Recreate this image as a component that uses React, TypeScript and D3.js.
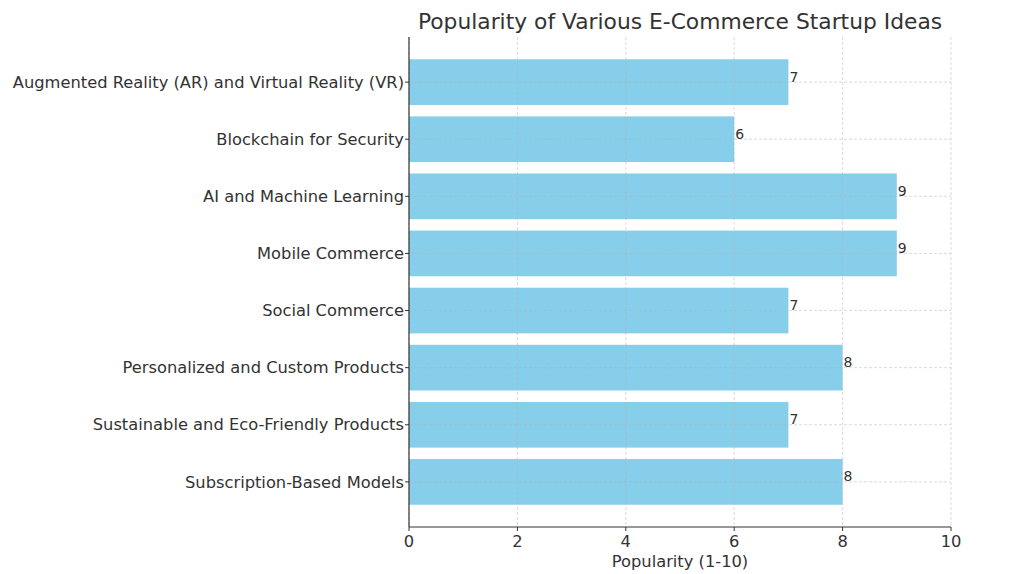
import React from "react";
import * as d3 from "d3";

const categories = [
  "Augmented Reality (AR) and Virtual Reality (VR)",
  "Blockchain for Security",
  "AI and Machine Learning",
  "Mobile Commerce",
  "Social Commerce",
  "Personalized and Custom Products",
  "Sustainable and Eco-Friendly Products",
  "Subscription-Based Models",
];
const popularity = [7, 6, 9, 9, 7, 8, 7, 8];
const xTicks = [0, 2, 4, 6, 8, 10];

const W = 1024;
const H = 574;
const left = 409;
const right = 951;
const top = 37;
const bottom = 527;
const font = "'DejaVu Sans', sans-serif";
const textColor = "#333333";

export default function App() {
  const x = d3.scaleLinear().domain([0, 10]).range([left, right]);
  const n = categories.length;
  const lo = -0.4;
  const hi = n - 1 + 0.4;
  const pad = (hi - lo) * 0.05;
  const y = d3.scaleLinear().domain([lo - pad, hi + pad]).range([top, bottom]);
  const bh = y(0.4) - y(-0.4);

  return (
    <svg
      width={W}
      height={H}
      style={{ position: "absolute", left: 0, top: 0, background: "#fff" }}
      fontFamily={font}
    >
      <text x={(left + right) / 2} y={29} textAnchor="middle" fontSize={21.8} fill={textColor}>
        Popularity of Various E-Commerce Startup Ideas
      </text>
      {categories.map((c, i) => (
        <rect
          key={c}
          x={x(0)}
          y={y(i) - bh / 2}
          width={x(popularity[i]) - x(0)}
          height={bh}
          fill="#87CEEB"
        />
      ))}
      {xTicks.map((t) => (
        <line
          key={"gx" + t}
          x1={x(t)}
          x2={x(t)}
          y1={top}
          y2={bottom}
          stroke="#b0b0b0"
          strokeOpacity={0.6}
          strokeDasharray="3,2"
          strokeWidth={0.8}
        />
      ))}
      {categories.map((c, i) => (
        <line
          key={"gy" + c}
          x1={left}
          x2={right}
          y1={y(i)}
          y2={y(i)}
          stroke="#b0b0b0"
          strokeOpacity={0.6}
          strokeDasharray="3,2"
          strokeWidth={0.8}
        />
      ))}
      {categories.map((c, i) => (
        <text
          key={"v" + c}
          x={x(popularity[i]) + 1}
          y={y(i) - 0.5}
          fontSize={14}
          fill={textColor}
        >
          {popularity[i]}
        </text>
      ))}
      <line x1={left} x2={left} y1={top} y2={bottom} stroke="#333" strokeWidth={1.2} />
      <line x1={left} x2={right} y1={bottom} y2={bottom} stroke="#333" strokeWidth={1.2} />
      {categories.map((c, i) => (
        <g key={"yt" + c}>
          <line x1={left - 4} x2={left} y1={y(i)} y2={y(i)} stroke="#333" strokeWidth={1} />
          <text
            x={left - 5}
            y={y(i)}
            dy="0.35em"
            textAnchor="end"
            fontSize={16.3}
            fill={textColor}
          >
            {c}
          </text>
        </g>
      ))}
      {xTicks.map((t) => (
        <g key={"xt" + t}>
          <line x1={x(t)} x2={x(t)} y1={bottom} y2={bottom + 4} stroke="#333" strokeWidth={1} />
          <text x={x(t)} y={bottom + 19.5} textAnchor="middle" fontSize={16.3} fill={textColor}>
            {t}
          </text>
        </g>
      ))}
      <text x={(left + right) / 2} y={567} textAnchor="middle" fontSize={16.3} fill={textColor}>
        Popularity (1-10)
      </text>
    </svg>
  );
}
